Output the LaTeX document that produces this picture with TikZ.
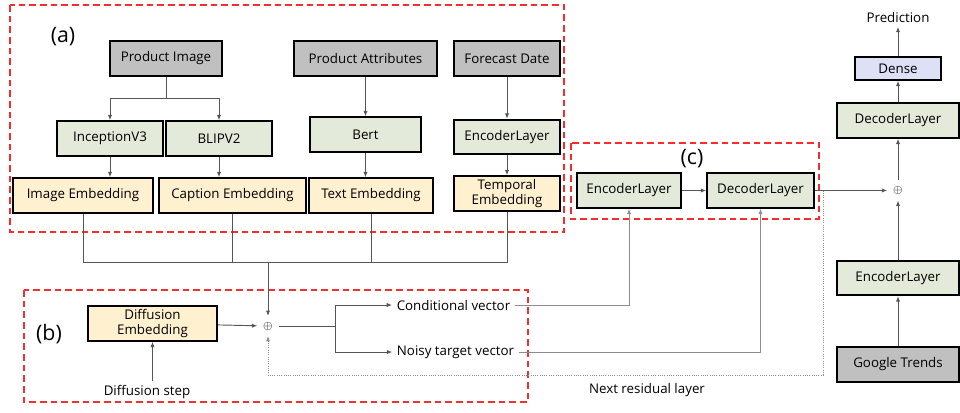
\documentclass[tikz,border=0pt]{standalone}
\usepackage{fontspec}
\setmainfont{Open Sans}
\usepackage{tikz}
\usetikzlibrary{arrows.meta, positioning}

\definecolor{boxgray}{RGB}{192,192,192}
\definecolor{boxgreen}{RGB}{227,234,217}
\definecolor{boxyellow}{RGB}{255,240,207}
\definecolor{boxblue}{RGB}{222,224,246}
\definecolor{groupred}{RGB}{245,45,45}
\definecolor{linkgray}{RGB}{85,85,85}
\definecolor{lightgray}{RGB}{140,140,140}

\begin{document}
\begin{tikzpicture}
        [x=0.75pt, y=-0.75pt,
         font=\fontsize{10}{11.5}\selectfont,
         boxsty/.style={rectangle,
                        draw=black,
                        line width=1.4pt,
                        inner sep=1pt,
                        minimum height=26pt,
                        align=center},
         inputsty/.style={boxsty, fill=boxgray},
         layersty/.style={boxsty, fill=boxgreen},
         embsty/.style={boxsty, fill=boxyellow},
         densesty/.style={boxsty, fill=boxblue, minimum height=17pt},
         oplussty/.style={inner sep=0pt, outer sep=4.5pt, font=\fontsize{9}{9}\selectfont},
         tagsty/.style={inner sep=0pt, font=\fontsize{16}{16}\selectfont},
         groupsty/.style={draw=groupred, line width=1.1pt, dash pattern=on 5pt off 3pt},
         link/.style={linkgray, line width=0.7pt},
         post/.style={-{Latex[length=4pt, width=3.2pt]}, linkgray, line width=0.7pt},
         softpost/.style={post, lightgray},
         residual/.style={-{Latex[length=4pt, width=3.2pt]}, lightgray, line width=0.7pt, densely dotted}]

        \useasboundingbox (0,0) rectangle (960,412);

        \draw[groupsty] (10,5) rectangle (564,232);
        \draw[groupsty] (24,290) rectangle (528,402);
        \draw[groupsty] (571,143) rectangle (819,219);

        \node[tagsty] (tag a) at (63,37) {(a)};
        \node[tagsty] (tag b) at (49,334) {(b)};
        \node[tagsty] (tag c) at (692,159) {(c)};

        \node[inputsty, minimum width=84pt] (prod img) at (166,58.5) {Product Image};
        \node[inputsty, minimum width=107pt] (prod attr) at (365.5,58.5) {Product Attributes};
        \node[inputsty, minimum width=79.5pt] (fc date) at (507,58.5) {Forecast Date};

        \node[layersty, minimum width=79.5pt] (incep) at (110,138.5) {InceptionV3};
        \node[layersty, minimum width=79.5pt] (blip) at (219,138.5) {BLIPV2};
        \node[layersty, minimum width=83pt] (bert) at (365.5,134.5) {Bert};
        \node[layersty, minimum width=79.5pt] (enc a) at (507,137) {EncoderLayer};

        \node[embsty, minimum width=105pt] (img emb) at (83,195.5) {Image Embedding};
        \node[embsty, minimum width=110pt] (cap emb) at (232.5,195.5) {Caption Embedding};
        \node[embsty, minimum width=93pt] (txt emb) at (371,195.5) {Text Embedding};
        \node[embsty, minimum width=79.5pt] (tmp emb) at (507,193.5) {Temporal\\Embedding};

        \draw[link] (prod img.south) -- ++(0,22) coordinate (img split);
        \draw[post] (img split) -| (incep);
        \draw[post] (img split) -| (blip);
        \draw[post] (prod attr) -- (bert);
        \draw[post] (fc date) -- (enc a);
        \draw[post] (incep) -- (img emb.north -| incep);
        \draw[post] (blip) -- (cap emb.north -| blip);
        \draw[post] (bert) -- (txt emb.north -| bert);
        \draw[post] (enc a) -- (tmp emb);

        \coordinate (merge) at (268,262);
        \node[oplussty] (oplus b) at (268,326) {$\oplus$};

        \draw[link] (img emb.south) |- (merge);
        \draw[link] (cap emb.south) |- (merge);
        \draw[link] (txt emb.south) |- (merge);
        \draw[link] (tmp emb.south) |- (merge);
        \draw[post] (merge) -- (oplus b);

        \node[embsty, minimum width=97pt] (diff emb) at (152.5,323.5) {Diffusion\\Embedding};
        \node (diff step) at (147,392) {Diffusion step};
        \draw[post] (diff emb.south |- diff step.north) -- (diff emb.south);
        \draw[post] (diff emb) -- (oplus b);

        \coordinate (branch) at (335,326);
        \node (cond vec) at (453.5,305) {Conditional vector};
        \node (noisy vec) at (455.5,352) {Noisy target vector};
        \draw[link] (oplus b) -- (branch);
        \draw[post] (branch) |- (cond vec.west);
        \draw[post] (branch) |- (noisy vec.west);

        \node[layersty, minimum width=78pt] (enc c) at (629,190.5) {EncoderLayer};
        \node[layersty, minimum width=80pt] (dec c) at (760.5,190.5) {DecoderLayer};
        \draw[post] (enc c) -- (dec c);
        \draw[softpost] (cond vec.east) -| (enc c);
        \draw[softpost] (noisy vec.east) -| (dec c);

        \node[inputsty, minimum width=91pt] (trends) at (898,364.5) {Google Trends};
        \node[layersty, minimum width=91pt] (enc r) at (898,278) {EncoderLayer};
        \node[oplussty] (oplus c) at (898,190.5) {$\oplus$};
        \node[layersty, minimum width=91pt] (dec r) at (898,120.5) {DecoderLayer};
        \node[densesty, minimum width=65pt] (dense) at (898,68.5) {Dense};
        \node (pred) at (898,17) {Prediction};

        \draw[post] (trends) -- (enc r);
        \draw[post] (enc r) -- (oplus c);
        \draw[post] (dec c) -- (oplus c);
        \draw[post] (oplus c) -- (dec r);
        \draw[post] (dec r) -- (dense);
        \draw[post] (dense) -- (pred);

        \coordinate (res split) at (823,190.5);
        \coordinate (res corner) at (268,375);
        \draw[residual] (res split) |- (res corner) -- (oplus b);
        \node (res label) at (647,390) {Next residual layer};
\end{tikzpicture}
\end{document}
